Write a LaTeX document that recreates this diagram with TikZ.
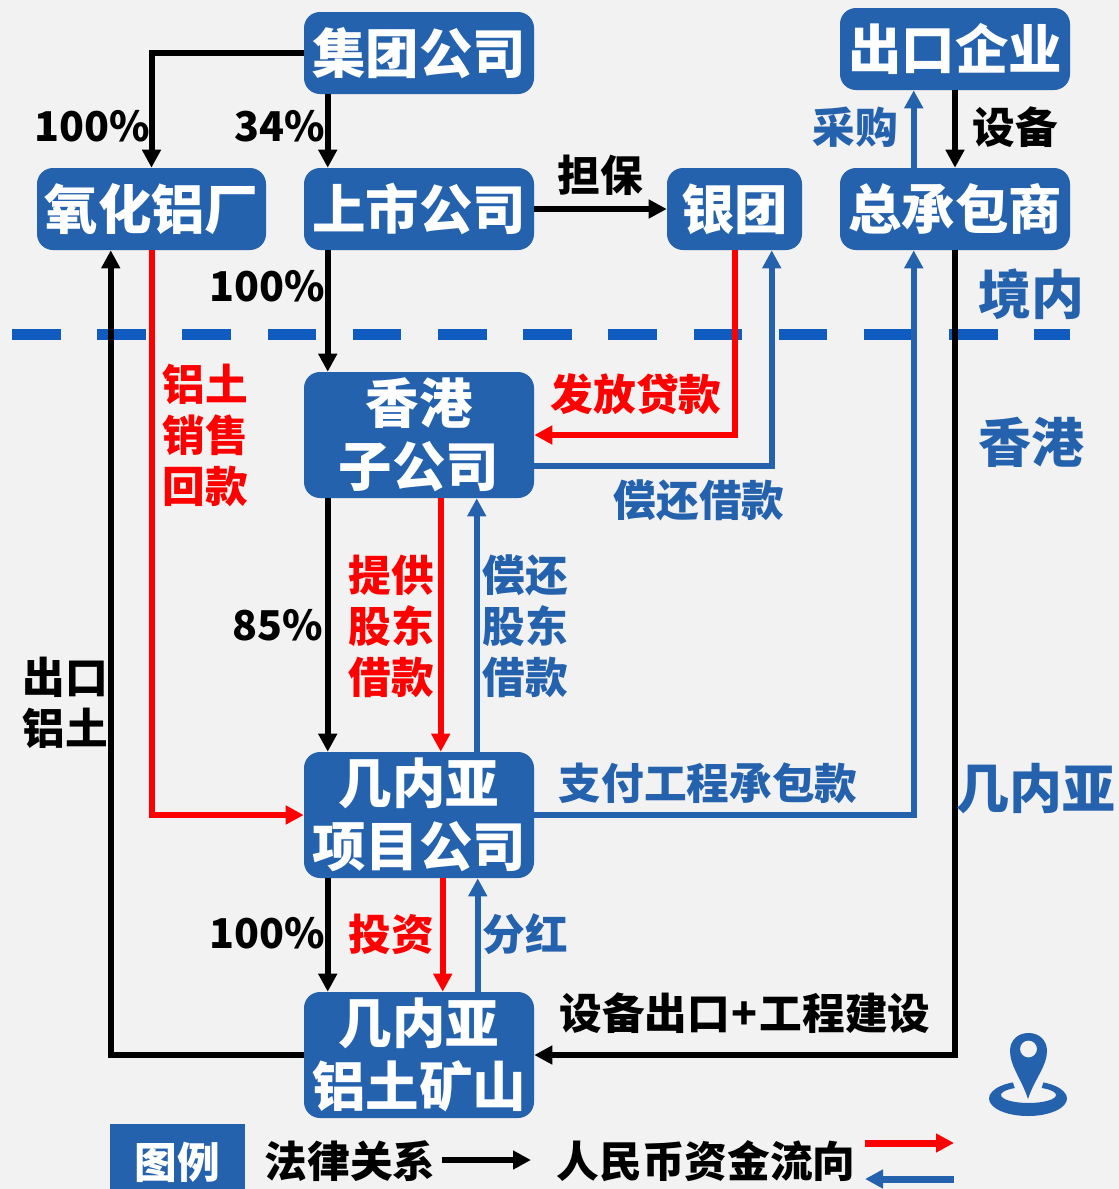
\documentclass[tikz,border=0pt]{standalone}
\usepackage{fontspec}
\setmainfont{Noto Sans CJK SC}
\usetikzlibrary{arrows.meta}
\definecolor{bluebox}{HTML}{2462AE}
\definecolor{dashblue}{HTML}{0F5BC0}
\definecolor{bgc}{HTML}{F2F2F2}
\definecolor{redc}{HTML}{FF0000}
\newcommand{\pxl}[1]{#1*0.75pt}
\tikzset{
  x=0.75pt,y=-0.75pt,
  box/.style={fill=bluebox,text=white,rounded corners=\pxl{16},inner sep=0pt,align=center,
    font=\bfseries\fontsize{40.1}{47.5}\selectfont,minimum width=\pxl{230}},
  oneh/.style={minimum height=\pxl{82}},
  twoh/.style={minimum height=\pxl{126}},
  lab/.style={inner sep=0pt,align=center,font=\bfseries\fontsize{32}{38.3}\selectfont},
  pct/.style={lab,font=\bfseries\fontsize{30.8}{38}\selectfont},
  big/.style={inner sep=0pt,align=center,text=bluebox,font=\bfseries\fontsize{39.7}{47}\selectfont},
  conn/.style={line width=\pxl{6},-{Triangle[length=13.5pt,width=13.5pt]}},
  blk/.style={conn,draw=black},
  rd/.style={conn,draw=redc},
  bl/.style={conn,draw=bluebox},
}
\begin{document}
\begin{tikzpicture}
\useasboundingbox (0,0) rectangle (1119,1189);
\fill[bgc] (0,0) rectangle (1119,1189);

\coordinate (dashL) at (12,334);
\coordinate (dashR) at (1070,334);
\draw[dashblue,line width=\pxl{11},dash pattern=on \pxl{48.5} off \pxl{36.7}] (dashL) -- (dashR);

\node[box,oneh] (jt) at (419,53) {集团公司};
\node[box,oneh] (ck) at (955,49) {出口企业};
\node[box,oneh,minimum width=\pxl{229}] (yh) at (151.5,209) {氧化铝厂};
\node[box,oneh] (ss) at (419,209) {上市公司};
\node[box,oneh,minimum width=\pxl{135}] (yt) at (734.5,209) {银团};
\node[box,oneh] (zcb) at (955,209) {总承包商};
\node[box,twoh] (hk) at (419,435) {香港\\子公司};
\node[box,twoh] (xm) at (419,815) {几内亚\\项目公司};
\node[box,twoh] (ks) at (419,1055) {几内亚\\铝土矿山};

% black
\draw[blk] (jt.west) -| (yh.north);
\draw[blk] ([xshift=\pxl{24}]jt.south west) -- ([xshift=\pxl{24}]ss.north west);
\draw[blk] (ss.east) -- (yt.west);
\draw[blk] ([xshift=\pxl{24}]ss.south west) -- ([xshift=\pxl{24}]hk.north west);
\draw[blk] (ck.south) -- (zcb.north);
\draw[blk] ([xshift=\pxl{24}]hk.south west) -- ([xshift=\pxl{24}]xm.north west);
\draw[blk] ([xshift=\pxl{24}]xm.south west) -- ([xshift=\pxl{24}]ks.north west);
\draw[blk] (ks.west) -| ([xshift=\pxl{74}]yh.south west);
\draw[blk] (zcb.south) |- (ks.east);
% red
\draw[rd] (yh.south) |- (xm.west);
\draw[rd] (yt.south) |- (hk.east);
\draw[rd] ([xshift=\pxl{137}]hk.south west) -- ([xshift=\pxl{137}]xm.north west);
\draw[rd] ([xshift=\pxl{139}]xm.south west) -- ([xshift=\pxl{139}]ks.north west);
% blue
\draw[bl] ([xshift=\pxl{74}]zcb.north west) -- ([xshift=\pxl{74}]ck.south west);
\draw[bl] ([yshift=\pxl{32}]hk.south east) -| ([xshift=\pxl{105}]yt.south west);
\draw[bl] ([xshift=\pxl{173}]xm.north west) -- ([xshift=\pxl{173}]hk.south west);
\draw[bl] (xm.east) -| ([xshift=\pxl{74}]zcb.south west);
\draw[bl] ([xshift=\pxl{174}]ks.north west) -- ([xshift=\pxl{174}]xm.south west);

% black labels
\node[pct] (l1) at (92,126) {100\%};
\node[pct] (l2) at (280,126) {34\%};
\node[lab] (l3) at (600,175) {担保};
\node[lab] (l4) at (1015,127) {设备};
\node[pct] (l5) at (267,286) {100\%};
\node[pct] (l6) at (278,625) {85\%};
\node[lab] (l7) at (65,703) {出口\\铝土};
\node[pct] (l8) at (267,933) {100\%};
\node[lab] (l9) at (745,1013) {设备出口\kern1.5pt+\kern1.5pt工程建设};
% red labels
\node[lab,text=redc] (r1) at (205,435) {铝土\\销售\\回款};
\node[lab,text=redc] (r2) at (636,394) {发放贷款};
\node[lab,text=redc] (r3) at (391,626) {提供\\股东\\借款};
\node[lab,text=redc] (r4) at (391,934) {投资};
% blue labels
\node[lab,text=bluebox] (b1) at (855,127) {采购};
\node[lab,text=bluebox] (b2) at (699,500) {偿还借款};
\node[lab,text=bluebox] (b3) at (525,626) {偿还\\股东\\借款};
\node[lab,text=bluebox] (b4) at (708,783) {支付工程承包款};
\node[lab,text=bluebox] (b5) at (525,934) {分红};
\node[big] (a1) at (1031,294) {境内};
\node[big] (a2) at (1031,442) {香港};
\node[big] (a3) at (1036,789) {几内亚};

% pin icon
\fill[bluebox,even odd rule] (1028,1098.5) ellipse [x radius=39,y radius=17.5]
  (1028.5,1095) ellipse [x radius=27.5,y radius=8];
\fill[bgc] (1011.5,1078) -- (1015.5,1090) -- (1041,1090) -- (1044.5,1078) -- cycle;
\fill[bluebox,even odd rule] (1028,1099) .. controls (1022,1080) and (1010,1066) .. (1010,1051)
  .. controls (1010,1040) and (1018,1033) .. (1028.5,1033)
  .. controls (1039,1033) and (1047,1040) .. (1047,1051)
  .. controls (1047,1066) and (1034,1080) .. (1028,1099) -- cycle
  (1028.5,1049) circle [radius=8.5];

% legend
\node[fill=bluebox,text=white,inner sep=0pt,minimum width=\pxl{135},minimum height=\pxl{65},
  font=\bfseries\fontsize{32}{38}\selectfont] (lg) at (177.5,1156.5) {\rule{0pt}{35.5pt}图例};
\node[lab] (lg1) at (350,1161) {法律关系};
\node[lab] (lg2) at (706,1161) {人民币资金流向};
\coordinate (k1) at (442,1160);
\coordinate (k2) at (531,1160);
\coordinate (k3) at (865,1143);
\coordinate (k4) at (954,1143);
\coordinate (k5) at (954,1179);
\coordinate (k6) at (865,1179);
\draw[blk] (k1) -- (k2);
\draw[rd,line width=\pxl{7}] (k3) -- (k4);
\draw[bl,line width=\pxl{7}] (k5) -- (k6);
\end{tikzpicture}
\end{document}
